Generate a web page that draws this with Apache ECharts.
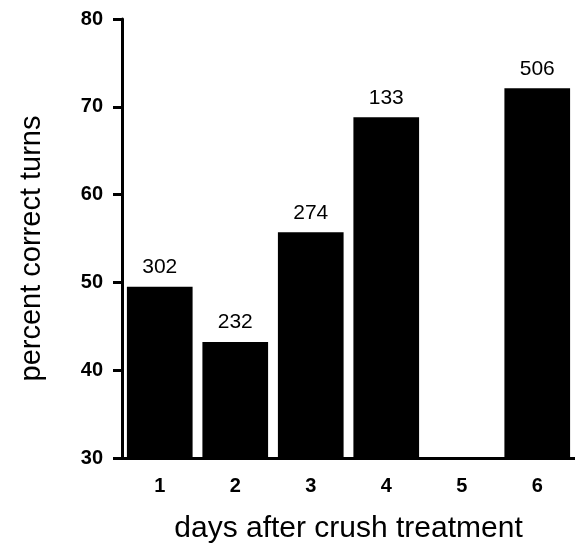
<!DOCTYPE html>
<html>
<head>
<meta charset="utf-8">
<script src="https://cdn.jsdelivr.net/npm/echarts@6/dist/echarts.min.js"></script>
<style>
  html, body { margin: 0; padding: 0; background: #fff; }
  #main { width: 575px; height: 549px; }
</style>
</head>
<body>
<div id="main"></div>
<script>
// days after crush treatment
var days = ['1', '2', '3', '4', '5', '6'];
// percent correct turns (day 5 has no bar)
var percentCorrect = [49.5, 43.2, 55.7, 68.8, null, 72.1];
// numbers printed above the bars
var barCounts = ['302', '232', '274', '133', '', '506'];
var yTicks = [30, 40, 50, 60, 70, 80];

var chart = echarts.init(document.getElementById('main'));
var font = 'Liberation Sans, Arial, Helvetica, sans-serif';

var option = {
    animation: false,
    grid: { left: 122, right: 0, top: 19, bottom: 88 },
    xAxis: {
        type: 'category',
        data: days,
        name: 'days after crush treatment',
        nameLocation: 'middle',
        nameGap: 56,
        nameTextStyle: { color: '#000', fontSize: 30, fontFamily: font },
        axisLine: { lineStyle: { color: '#000', width: 3 } },
        axisTick: { show: false },
        axisLabel: { color: '#000', fontSize: 20, fontWeight: 'bold', fontFamily: font, margin: 18 }
    },
    yAxis: {
        type: 'value',
        min: yTicks[0],
        max: yTicks[yTicks.length - 1],
        interval: 10,
        name: 'percent correct turns',
        nameLocation: 'middle',
        nameGap: 76,
        nameTextStyle: { color: '#000', fontSize: 29, fontFamily: font, padding: [0, 20, 0, 0] },
        axisLine: { show: true, lineStyle: { color: '#000', width: 3 } },
        axisTick: { show: true, length: 9, lineStyle: { color: '#000', width: 3 } },
        axisLabel: { color: '#000', fontSize: 20, fontWeight: 'bold', fontFamily: font, margin: 19 },
        splitLine: { show: false }
    },
    series: [{
        type: 'bar',
        data: percentCorrect,
        barWidth: '87%',
        itemStyle: { color: '#000' },
        label: {
            show: true,
            position: 'top',
            distance: 9,
            color: '#000',
            fontSize: 21,
            fontFamily: font,
            formatter: function (p) { return barCounts[p.dataIndex]; }
        }
    }]
};

chart.setOption(option);
</script>
</body>
</html>
